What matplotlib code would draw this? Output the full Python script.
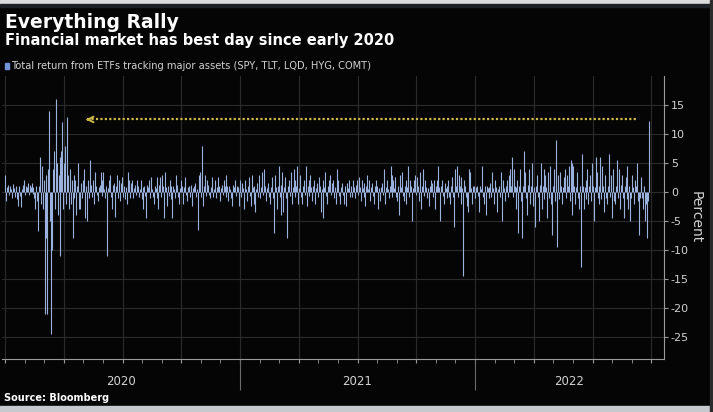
import matplotlib.pyplot as plt
from matplotlib.patches import Rectangle
import numpy as np

# daily total return (percent), one value per trading day
ret_2020 = [
    3.0, -1.5, 0.8, 1.2, -0.6, 1.0, 0.5, -1.0, 1.3, 0.7,
    -0.8, 1.1, -1.2, -2.5, 0.9, 1.0, -0.7, -2.6, 0.6, 1.2,
    2.0, -0.5, 1.0, 0.8, 1.5, -0.6, 1.2, 0.9, 1.5, -0.4,
    0.8, -1.0, -3.0, 1.1, -1.5, -6.8, 1.0, 6.0, -2.0, 4.5,
    -3.0, 2.0, -21.0, 3.0, -8.0, -21.0, 4.0, 14.0, -5.0, -24.5,
    -10.0, 4.0, 7.0, -3.0, 16.0, 5.0, -4.0, 3.0, 6.0, -11.0,
    7.0, 12.0, -3.0, 5.0, 8.0, -2.0, 13.0, 3.0, -3.0, 4.0,
    -2.0, 2.0, -8.0, 3.0, -1.0, 2.0, -4.0, 1.0, 5.0, -3.0,
    -3.0, 1.5, -1.0, 2.0, 4.0, -4.5, 1.0, -5.0, 0.8, 2.0,
    -1.0, 5.5, 1.2, -0.8, 2.0, -2.0, 3.5, 1.0, -0.6, -1.5,
    0.8, 1.2, 3.5, 2.0, -0.7, 3.5, 0.6, -1.0, 1.0, -11.0,
    0.7, 2.0, 3.0, -0.8, -3.0, 1.2, 1.5, -4.3, 0.6, 1.0,
    3.0, -1.0, 2.0, -1.5, 1.5, 2.5, -0.8, 1.0, -1.2, 0.9,
    -2.0, 3.5, 0.8, 2.0, -1.0, 1.5, 2.0, -1.0, 0.7, 1.2,
    -0.6, 2.0, 1.0, -0.8, 0.6, 2.0, -1.2, 0.8, -3.0, 1.0,
    -0.7, -4.5, 1.2, 0.8, 2.0, -1.0, 2.5, 0.6, -0.9, -2.0,
    1.0, 0.7, -1.0, 2.5, -3.0, 1.2, 2.5, -0.8, 3.0, 1.0,
    -4.5, 3.5, 0.8, -2.5, 1.0, -0.7, 2.0, 1.0, -1.2, -4.5,
    1.0, 0.6, -1.0, 3.0, 1.2, -0.8, -2.0, 0.7, 2.0, 1.0,
    -2.0, 0.8, 2.5, 1.0, -0.6, -1.5, 0.9, 1.0, -0.8, 1.2,
    -2.5, 0.7, 1.0, 1.5, -0.9, 0.6, -6.5, 3.0, 1.0, 3.5,
    -0.8, 8.0, -2.5, 1.0, 3.0, -0.7, 2.0, 1.2, -0.6, -1.0,
    0.8, 2.5, 1.0, -0.8, 0.6, 2.0, -1.0, 0.9, 2.5, 1.0,
    -1.5, 0.7, 1.2, -0.6, 2.0, 1.0, 3.0, -0.8, 1.0, -1.5,
    1.0, 0.6, -1.0, -2.5, 1.2, 0.8, 2.0, -0.7, 1.0, 0.9,
    -2.5, 1.0, 0.6,
]
ret_2021 = [
    2.0, -0.8, 1.5, 0.7, -3.0, 2.0, 0.6, -1.5, 1.0, 2.5,
    -0.7, -2.5, 3.0, 0.8, -2.0, 1.0, -3.5, 0.6, 1.5, -0.9,
    3.0, -1.0, 0.8, 3.5, -0.6, 4.0, 1.0, -1.5, 0.7, 1.0,
    1.5, -0.8, -2.0, 0.9, 2.5, -1.0, -7.0, 3.0, 0.8, -3.0,
    1.0, 4.5, -0.9, -4.0, 1.2, 3.5, -3.5, 0.8, 2.5, -1.0,
    -8.0, 1.0, 2.0, -0.7, 3.5, -2.0, 0.9, 4.0, -0.8, 2.0,
    1.0, 4.5, -2.0, 0.7, 3.0, -0.9, -2.0, 1.0, 2.0, -0.6,
    4.5, -2.5, 1.0, 2.0, -0.7, 3.0, 0.8, -1.5, 1.0, 2.0,
    -2.0, 0.7, 1.5, -0.8, 2.5, 1.0, -3.5, 0.6, -4.5, 2.0,
    0.8, 3.5, -0.7, -2.0, 1.0, 2.0, 3.0, -0.6, 1.5, 2.0,
    -1.0, 0.8, -2.0, 1.0, 4.0, 2.0, -0.7, -2.0, 0.9, 1.5,
    -0.6, -2.0, 1.0, -2.5, 1.5, 0.7, 2.0, -0.8, 1.0, 0.6,
    -0.9, 2.0, 0.8, -1.0, 1.2, 2.0, -0.6, 2.5, 0.9, -1.5,
    2.0, 0.7, 1.5, -0.8, -2.5, 1.0, 3.0, 0.6, 2.0, -1.5,
    0.8, 1.5, -0.7, -2.0, 1.0, 2.0, 1.0, -0.8, -3.0, 0.7,
    -1.5, 0.9, 1.5, -0.6, 4.0, -2.0, 0.8, 2.0, 0.6, -1.0,
    1.0, 4.5, 3.0, -0.8, 2.0, 0.7, 2.5, -0.9, -1.5, 1.0,
    -4.0, 3.0, 0.8, 3.5, -0.7, -1.5, 1.0, 2.0, -2.0, 0.9,
    4.5, -0.8, 2.0, 1.0, -5.0, 0.7, 2.0, 3.0, -0.6, 2.5,
    1.0, -1.5, 0.8, 3.5, -3.0, 1.0, 4.0, -0.7, 2.0, 0.9,
    -1.0, 0.7, -2.5, 1.0, 2.0, 1.5, -0.8, 2.0, 0.6, -3.0,
    1.0, 2.0, 4.5, 0.8, -5.0, 1.0, 2.0, -0.7, -2.0, 1.5,
    0.7, -1.0, 1.0, 2.0, -0.8, -2.0, 1.0, 2.5, -0.9, -6.0,
    4.0, 1.0, 4.5, -0.8, 3.0, 1.0, -2.0, 2.5, 0.7, -14.5,
    2.0, 1.0, -0.8, -2.5, -3.5, 4.0, 3.5, 0.7, -2.0, 1.0,
    1.0, -1.0,
]
ret_2022 = [
    -1.0, 0.8, 1.0, -0.7, -3.5, 1.0, 0.6, 4.5, -0.8, -2.0,
    1.0, -4.0, 1.0, 0.7, -1.0, 0.9, 1.5, -0.8, 3.5, 0.7,
    -2.0, 2.0, 0.8, -3.5, 0.6, 1.0, -0.9, 3.5, -5.0, 1.0,
    2.0, 0.7, -1.5, 1.0, 2.0, -0.8, 3.0, 4.0, 1.0, 6.0,
    -0.9, 4.0, 1.0, -3.0, 0.8, 2.0, -7.0, 1.0, 4.0, -1.5,
    -8.0, 1.0, 7.0, 3.5, -1.0, -4.0, 1.2, 4.0, -0.8, -2.0,
    1.0, 5.0, -2.5, 0.8, -6.0, 1.0, 3.0, -0.9, -5.0, 1.2,
    5.0, -3.0, 1.0, 4.0, -1.2, 3.0, 0.8, -4.5, 3.5, -1.0,
    4.5, -2.0, -7.5, 1.0, 4.0, -1.5, 9.0, -9.5, 1.0, 3.0,
    -1.2, 3.5, 1.0, -2.0, 0.8, 2.5, 4.0, -1.0, 3.0, 1.0,
    4.5, -1.5, 5.5, 5.0, -4.0, 4.5, 1.0, -2.0, 0.8, 3.5,
    -1.0, -3.0, 1.0, -13.0, 6.5, 1.0, -3.0, 0.8, 2.0, -1.2,
    4.0, -2.0, 1.0, 3.0, -1.5, 5.0, 1.0, -5.0, 0.8, 6.0,
    3.5, -1.0, -2.0, 1.0, 6.0, -1.2, 4.5, 1.0, -3.5, 3.0,
    -1.0, -2.0, 1.0, 6.5, -0.8, 3.0, -4.5, 1.0, 4.0, -1.5,
    -2.0, 1.0, 5.5, -1.0, 4.0, -3.0, 1.2, 3.0, -1.0, -4.5,
    1.0, 2.5, -1.2, 4.5, -3.0, 1.0, -5.0, -1.0, 3.0, 0.8,
    -2.0, 2.0, 1.0, 5.0, -1.5, -7.5, -1.0, 2.5, 1.5, -1.0,
    -3.0, 1.0, -5.0, -2.0, -8.0, -1.5, 12.2,
]

years = [2020, 2021, 2022]
year_labels = ['2020', '2021', '2022']
y_ticks = [15, 10, 5, 0, -5, -10, -15, -20, -25]

title = 'Everything Rally'
subtitle = 'Financial market has best day since early 2020'
legend_text = 'Total return from ETFs tracking major assets (SPY, TLT, LQD, HYG, COMT)'
source = 'Source: Bloomberg'

plt.rcParams['font.family'] = 'DejaVu Sans'
plt.rcParams['axes.unicode_minus'] = False

bg = '#050505'
bar_c = '#9ab1de'
grid_c = '#2b2b2b'
txt_c = '#d2d2d2'
axis_c = '#9a9a9a'
arrow_c = '#cdb94a'

W, H = 713, 412
fig = plt.figure(figsize=(W / 100, H / 100), dpi=100, facecolor=bg)
ax = fig.add_axes([2 / W, 1 - 359 / H, 662 / W, 283 / H])
ax.set_facecolor(bg)

# one thin bar per day, snapped to whole pixels
for yr, vals in zip(years, [ret_2020, ret_2021, ret_2022]):
    pos = yr + (np.arange(len(vals)) + 0.5) / 252
    ax.vlines(pos, 0, vals, color=bar_c, lw=0.8, snap=True, zorder=3)

x0 = 2021 - 238 / 235
x1 = 2022 + 189 / 235
ax.set_xlim(x0, x1)
ax.set_ylim(-28.8, 20.0)

# quarterly grid, monthly ticks
ax.set_xticks(np.arange(2020, x1, 0.25))
ax.set_xticks(np.arange(2020, x1, 1 / 12), minor=True)
ax.tick_params(axis='x', which='both', length=3, color=axis_c, labelbottom=False)
ax.grid(True, color=grid_c, lw=0.8, zorder=0)

ax.yaxis.tick_right()
ax.set_yticks(y_ticks)
ax.set_yticklabels([str(t) for t in y_ticks])
ax.tick_params(axis='y', length=3, color=axis_c, labelcolor=txt_c, labelsize=8, pad=2)
ax.yaxis.set_label_position('right')
ax.set_ylabel('Percent', rotation=270, color=txt_c, fontsize=10, labelpad=10)

for s in ['top', 'left']:
    ax.spines[s].set_visible(False)
for s in ['bottom', 'right']:
    ax.spines[s].set_color(axis_c)
    ax.spines[s].set_linewidth(0.8)

# year separators and labels under the axis
xt = ax.get_xaxis_transform()
ax.vlines([2021, 2022], -0.11, 0, transform=xt, color='#6a6a6a', lw=0.8, clip_on=False)
edges = [x0, 2021, 2022, x1]
for i, lab in enumerate(year_labels):
    ax.text((edges[i] + edges[i + 1]) / 2, -0.081, lab, transform=xt,
            ha='center', va='center', color=txt_c, fontsize=8.5)

# arrow back to early 2020
arrow_y = 12.5
ax.plot([2020.35, 2022.69], [arrow_y, arrow_y], ls=(0, (1, 1)), color=arrow_c, lw=1.6, zorder=4)
ax.annotate('', xy=(2020.332, arrow_y), xytext=(2020.37, arrow_y),
            arrowprops=dict(arrowstyle='->', color=arrow_c, lw=1.4, mutation_scale=10), zorder=4)

# titles, legend, source
fig.text(5 / W, 1 - 22 / H, title, fontsize=13.5, fontweight='bold', color='white', va='center')
fig.text(5 / W, 1 - 40 / H, subtitle, fontsize=10.5, fontweight='bold', color='white', va='center')
fig.add_artist(Rectangle((5 / W, 1 - 69 / H), 4 / W, 6 / H, color='#7494d8', transform=fig.transFigure))
fig.text(11 / W, 1 - 66 / H, legend_text, fontsize=7.1, color=txt_c, va='center')
fig.text(4 / W, 1 - 398 / H, source, fontsize=7, fontweight='bold', color='white', va='center')

# frame strips of the screenshot
fig.add_artist(Rectangle((0, 1 - 4 / H), 1, 4 / H, color='#dcdcdc', transform=fig.transFigure))
fig.add_artist(Rectangle((0, 1 - 7 / H), 1, 3 / H, color='#1c2027', transform=fig.transFigure))
fig.add_artist(Rectangle((0, 0), 1, 6 / H, color='#c6cacf', transform=fig.transFigure))
fig.add_artist(Rectangle((1 - 3 / W, 0), 3 / W, 1, color='#2c2c2c', transform=fig.transFigure))

fig.savefig('out.png', dpi=100, facecolor=bg)
